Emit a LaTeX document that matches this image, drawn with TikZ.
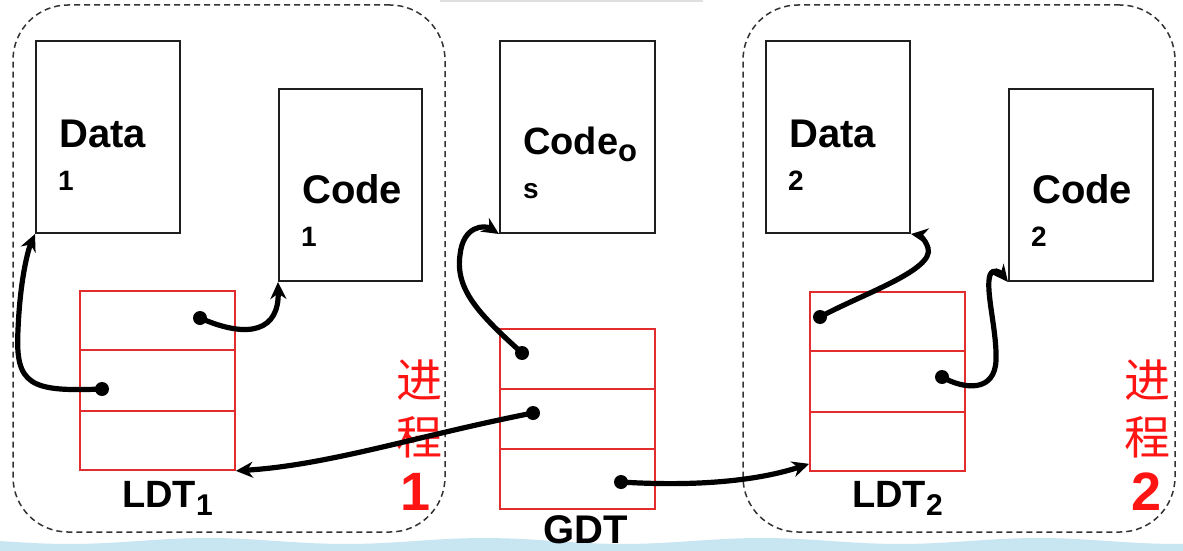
\documentclass[tikz,border=0pt]{standalone}
\usepackage{fontspec}
\setmainfont{Liberation Sans}
\newfontfamily\cjk{Noto Sans CJK SC}
\usetikzlibrary{calc,arrows.meta}
\definecolor{ldtred}{RGB}{225,45,45}
\definecolor{procred}{RGB}{255,20,20}
\definecolor{bandblue}{RGB}{200,229,242}
\definecolor{boxline}{RGB}{30,30,30}
\tikzset{
  membox/.style={draw=boxline, line width=2pt, rectangle, inner sep=0pt, minimum width=144pt, minimum height=192pt},
  tablebox/.style={draw=ldtred, line width=1.7pt, rectangle, inner sep=0pt, minimum width=155pt, minimum height=179pt},
  rowline/.style={draw=ldtred, line width=2pt},
  procbox/.style={draw=black!80, line width=1.5pt, dash pattern=on 6pt off 4pt, rectangle, rounded corners=55pt, inner sep=0pt, minimum width=432pt, minimum height=527pt},
  bigtxt/.style={font=\fontsize{40}{42}\selectfont\bfseries, inner sep=0pt, anchor=base west},
  smalltxt/.style={font=\fontsize{28}{30}\selectfont\bfseries, inner sep=0pt, anchor=base west},
  cjktxt/.style={font=\fontsize{46}{48}\selectfont\cjk, text=procred, inner sep=0pt},
  numtxt/.style={font=\fontsize{54}{56}\selectfont\bfseries, text=procred, inner sep=0pt, anchor=base},
  ptr/.style={draw=black, line width=5.2pt, -{Stealth[length=17pt,width=16pt]}},
  dotn/.style={circle, fill=black, inner sep=0pt, minimum size=14pt},
}
\begin{document}
\begin{tikzpicture}[x=1pt,y=-1pt]
\useasboundingbox (0,0) rectangle (1183,551);
\fill[white] (0,0) rectangle (1183,551);
\fill[black!12] (440,0) rectangle (703,2);
\fill[bandblue] (0,551) -- plot[domain=0:1183, samples=80] (\x, {541+3*sin(\x*1.3)}) -- (1183,551) -- cycle;

% process frames
\node[procbox] (proc1) at (229,268.5) {};
\node[procbox] (proc2) at (959,268.5) {};

% memory segments
\node[membox] (data1) at (108,137) {};
\node[membox, minimum width=143pt] (code1) at (350.5,185) {};
\node[membox, minimum width=155pt] (codeos) at (577.5,137) {};
\node[membox] (data2) at (838,137) {};
\node[membox] (code2) at (1081,185) {};

% tables
\node[tablebox] (ldt1) at (157.5,380.5) {};
\node[tablebox] (ldt2) at (887.5,381.5) {};
\node[tablebox, minimum height=180pt] (gdt) at (577.5,419) {};
\foreach \t in {ldt1,ldt2,gdt}{
  \draw[rowline] ($(\t.north west)!1/3!(\t.south west)$) -- ($(\t.north east)!1/3!(\t.south east)$);
  \draw[rowline] ($(\t.north west)!2/3!(\t.south west)$) -- ($(\t.north east)!2/3!(\t.south east)$);
}

% texts
\node[bigtxt] (tdata1) at (59,147) {Data};
\node[smalltxt] (ndata1) at (58,190) {1};
\node[bigtxt] (tcode1) at (302,203) {Code};
\node[smalltxt] (ncode1) at (301,246) {1};
\node[bigtxt, font=\fontsize{38}{40}\selectfont\bfseries] (tcodeos) at (523,154) {Code\raisebox{-7pt}{\fontsize{31}{32}\selectfont o}};
\node[smalltxt] (scodeos) at (523,198) {s};
\node[bigtxt] (tdata2) at (789,147) {Data};
\node[smalltxt] (ndata2) at (788,190) {2};
\node[bigtxt] (tcode2) at (1032,203) {Code};
\node[smalltxt] (ncode2) at (1031,246) {2};
\node[bigtxt, font=\fontsize{38}{40}\selectfont\bfseries] (lldt1) at (122,507) {LDT\raisebox{-8pt}{\fontsize{30}{32}\selectfont 1}};
\node[bigtxt, font=\fontsize{38}{40}\selectfont\bfseries] (lldt2) at (852,507) {LDT\raisebox{-8pt}{\fontsize{30}{32}\selectfont 2}};
\node[bigtxt, anchor=base] (lgdt) at (586,543) {GDT};

\node[cjktxt] (p1a) at (419,380) {进};
\node[cjktxt] (p1b) at (419,437) {程};
\node[numtxt] (p1c) at (416,510) {1};
\node[cjktxt] (p2a) at (1147,380) {进};
\node[cjktxt] (p2b) at (1147,437) {程};
\node[numtxt] (p2c) at (1147,510) {2};

% pointer dots
\node[dotn] (l1a) at (200,318) {};
\node[dotn] (l1b) at (102,389) {};
\node[dotn] (g1) at (522,353) {};
\node[dotn] (g2) at (533,413) {};
\node[dotn] (g3) at (621,482) {};
\node[dotn] (l2a) at (820,317) {};
\node[dotn] (l2b) at (942,377) {};

% connectors
\draw[ptr] (l1a.center) .. controls (250,340) and (279,330) .. (code1.south west);
\draw[ptr] (l1b.center) .. controls (30,392) and (15,385) .. (18,330) .. controls (20,280) and (28,250) .. (data1.south west);
\draw[ptr] (g1.center) .. controls (480,315) and (455,290) .. (460,255) .. controls (463,225) and (485,225) .. (codeos.south west);
\draw[ptr] (g2.center) .. controls (420,435) and (330,465) .. (ldt1.south east);
\draw[ptr] (g3.center) .. controls (700,487) and (760,480) .. ([yshift=8pt]ldt2.south west);
\draw[ptr] (l2a.center) .. controls (860,295) and (935,270) .. (928,248) .. controls (925,238) and (918,235) .. (data2.south east);
\draw[ptr] (l2b.center) .. controls (965,390) and (995,392) .. (996,360) .. controls (997,330) and (985,290) .. (990,275) .. controls (993,268) and (1000,272) .. (code2.south west);
\end{tikzpicture}
\end{document}
